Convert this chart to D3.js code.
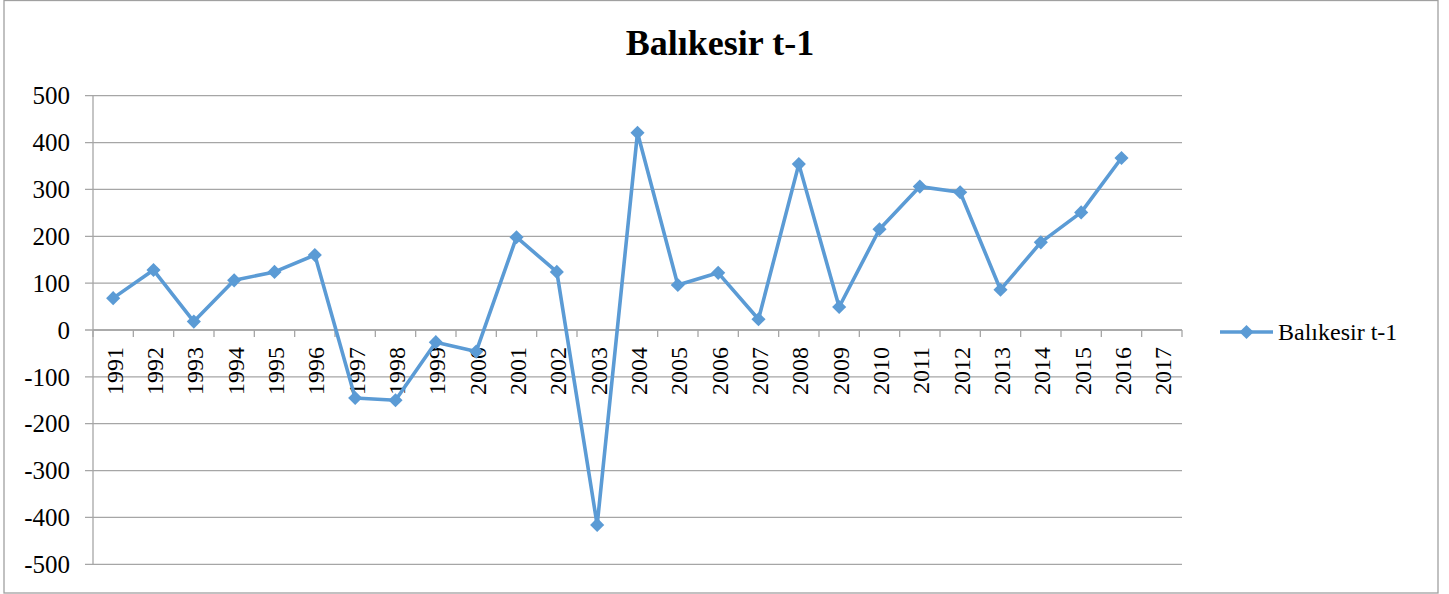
<!DOCTYPE html>
<html>
<head>
<meta charset="utf-8">
<script src="https://cdn.jsdelivr.net/npm/d3@7"></script>
<style>
  html, body { margin: 0; padding: 0; background: #fff; }
  svg { display: block; }
  svg text { font-family: "Times New Roman", "Liberation Serif", Times, serif; }
</style>
</head>
<body>
<svg id="chart" width="1449" height="594"></svg>
<script>
// Yearly series for Balıkesir (t-1)
const years = ["1991","1992","1993","1994","1995","1996","1997","1998","1999","2000",
               "2001","2002","2003","2004","2005","2006","2007","2008","2009","2010",
               "2011","2012","2013","2014","2015","2016","2017"];
const values = [68, 128, 18, 106, 124, 160, -145, -150, -26, -46,
                198, 124, -416, 421, 96, 122, 23, 354, 49, 215,
                306, 294, 86, 187, 251, 367, null];
const yTicks = [500, 400, 300, 200, 100, 0, -100, -200, -300, -400, -500];
const seriesName = "Balıkesir t-1";
const chartTitle = "Balıkesir t-1";

const lineColor = "#5B9BD5";
const gridColor = "#A6A6A6";
const fontFamily = "'Times New Roman', 'Liberation Serif', Times, serif";

const svg = d3.select("#chart");

// outer frame
svg.append("rect")
  .attr("x", 4).attr("y", 0.5).attr("width", 1434).attr("height", 592.5)
  .attr("fill", "#fff").attr("stroke", "#A0A0A0").attr("stroke-width", 1.3);

const plotLeft = 93, plotRight = 1182, plotTop = 95.7, plotBottom = 564.3;

const x = d3.scaleBand().domain(years).range([plotLeft, plotRight]);
const y = d3.scaleLinear().domain([-500, 500]).range([plotBottom, plotTop]);

// horizontal gridlines with left tick stubs
svg.append("g").selectAll("line").data(yTicks).join("line")
  .attr("x1", 85).attr("x2", plotRight)
  .attr("y1", d => y(d)).attr("y2", d => y(d))
  .attr("stroke", gridColor).attr("stroke-width", 1.3);

// vertical axis line
svg.append("line")
  .attr("x1", plotLeft).attr("x2", plotLeft).attr("y1", plotTop).attr("y2", plotBottom)
  .attr("stroke", gridColor).attr("stroke-width", 1.3);

// y-axis labels
svg.append("g").selectAll("text").data(yTicks).join("text")
  .attr("x", 70).attr("y", d => y(d)).attr("dy", "0.35em")
  .attr("text-anchor", "end").attr("font-size", 25).attr("fill", "#000")
  .attr("font-family", fontFamily)
  .text(d => d);

// category axis at zero with tick marks on band boundaries
svg.append("line")
  .attr("x1", plotLeft).attr("x2", plotRight).attr("y1", y(0)).attr("y2", y(0))
  .attr("stroke", gridColor).attr("stroke-width", 1.3);
const boundaries = years.map(d => x(d)).concat([plotRight]);
svg.append("g").selectAll("line").data(boundaries).join("line")
  .attr("x1", d => d).attr("x2", d => d)
  .attr("y1", y(0)).attr("y2", y(0) + 7)
  .attr("stroke", gridColor).attr("stroke-width", 1.3);

// rotated year labels
svg.append("g").selectAll("text").data(years).join("text")
  .attr("transform", d => `translate(${x(d) + x.bandwidth() / 2 + 1},${y(0) + 17}) rotate(-90)`)
  .attr("dy", "0.35em")
  .attr("text-anchor", "end").attr("font-size", 24).attr("fill", "#000")
  .attr("font-family", fontFamily)
  .text(d => d);

// series line
const pts = years.map((yr, i) => ({ yr, v: values[i] })).filter(d => d.v !== null);
const line = d3.line()
  .x(d => x(d.yr) + x.bandwidth() / 2)
  .y(d => y(d.v));
svg.append("path").datum(pts)
  .attr("d", line).attr("fill", "none")
  .attr("stroke", lineColor).attr("stroke-width", 3.6)
  .attr("stroke-linejoin", "round");

// diamond markers (squares turned 45 degrees)
const marker = d3.symbol().type(d3.symbolSquare).size(100);
svg.append("g").selectAll("path").data(pts).join("path")
  .attr("transform", d => `translate(${x(d.yr) + x.bandwidth() / 2},${y(d.v)}) rotate(45)`)
  .attr("d", marker)
  .attr("fill", lineColor);

// title
svg.append("text")
  .attr("x", 720).attr("y", 55)
  .attr("text-anchor", "middle").attr("font-size", 36).attr("font-weight", "bold")
  .attr("font-family", fontFamily)
  .attr("fill", "#000")
  .text(chartTitle);

// legend
const lg = svg.append("g");
lg.append("line")
  .attr("x1", 1220).attr("x2", 1273).attr("y1", 332).attr("y2", 332)
  .attr("stroke", lineColor).attr("stroke-width", 3.6);
lg.append("path")
  .attr("transform", "translate(1246.5,332) rotate(45)")
  .attr("d", marker)
  .attr("fill", lineColor);
lg.append("text")
  .attr("x", 1278).attr("y", 332).attr("dy", "0.35em")
  .attr("font-size", 24).attr("fill", "#000")
  .attr("font-family", fontFamily)
  .text(seriesName);
</script>
</body>
</html>
